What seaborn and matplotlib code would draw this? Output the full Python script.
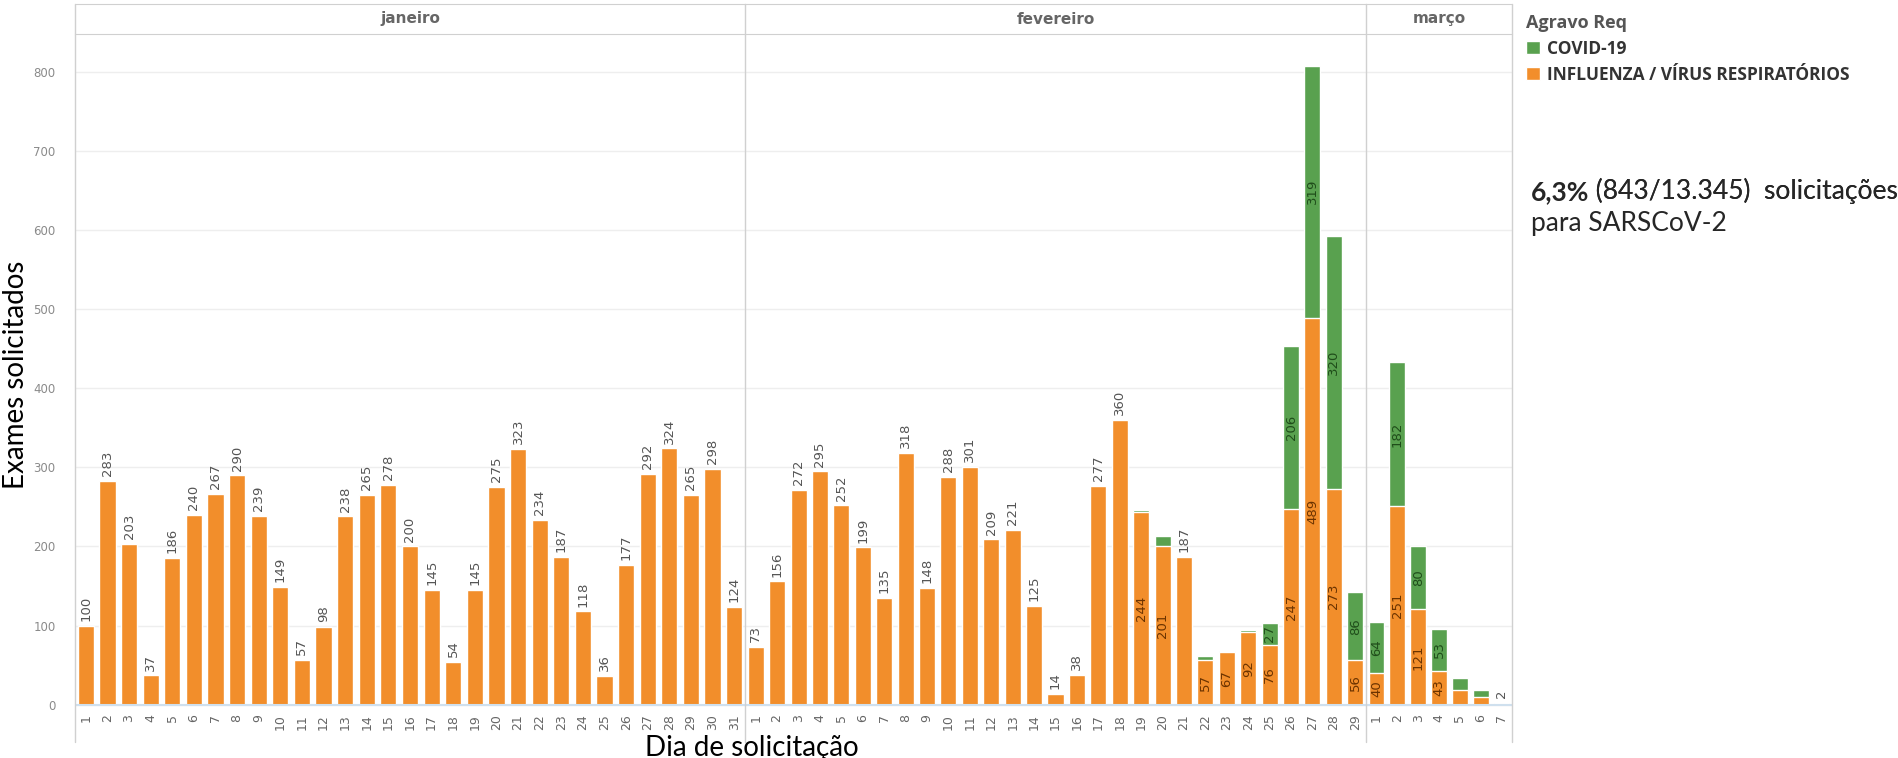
import matplotlib
matplotlib.use("Agg")
import matplotlib.pyplot as plt
from matplotlib.patches import Patch
from matplotlib.lines import Line2D
import seaborn as sns
import pandas as pd

# exames solicitados por dia, separados por agravo
meses = ["janeiro", "fevereiro", "março"]

jan_influenza = [100, 283, 203, 37, 186, 240, 267, 290, 239, 149, 57, 98, 238, 265, 278, 200,
                 145, 54, 145, 275, 323, 234, 187, 118, 36, 177, 292, 324, 265, 298, 124]
jan_covid = [0] * 31

fev_influenza = [73, 156, 272, 295, 252, 199, 135, 318, 148, 288, 301, 209, 221, 125, 14, 38,
                 277, 360, 244, 201, 187, 57, 67, 92, 76, 247, 489, 273, 56]
fev_covid = [0, 0, 0, 0, 0, 0, 0, 0, 0, 0, 0, 0, 0, 0, 0, 0,
             0, 0, 2, 12, 0, 4, 1, 2, 27, 206, 319, 320, 86]

mar_influenza = [40, 251, 121, 43, 18, 10, 2]
mar_covid = [64, 182, 80, 53, 16, 8, 0]

ORANGE = "#F28E2B"
GREEN = "#59A14F"
W, H = 1899, 758

sns.set_style("white")
plt.rcParams["font.family"] = ["DejaVu Sans"]

fig = plt.figure(figsize=(W / 100, H / 100), dpi=100)

# painel por mês, limites em pixels
bordas = [75, 745, 1366, 1512]
top_px, bottom_px = 34, 711

dados = [(jan_influenza, jan_covid), (fev_influenza, fev_covid), (mar_influenza, mar_covid)]

for i, (mes, (infl, cov)) in enumerate(zip(meses, dados)):
    x0, x1 = bordas[i], bordas[i + 1]
    ax = fig.add_axes([x0 / W, 1 - bottom_px / H, (x1 - x0) / W, (bottom_px - top_px) / H])
    df = pd.DataFrame({
        "dia": [str(d + 1) for d in range(len(infl))],
        "influenza": infl,
        "covid": cov,
    })
    df["total"] = df["influenza"] + df["covid"]

    sns.barplot(data=df, x="dia", y="total", color=GREEN, saturation=1, width=0.75, ax=ax)
    sns.barplot(data=df, x="dia", y="influenza", color=ORANGE, saturation=1, width=0.75, ax=ax)

    ax.set_ylim(-8, 848)
    ax.set_yticks(range(0, 801, 100))
    ax.grid(axis="y", color="#eeeeee", lw=1)
    ax.set_axisbelow(True)
    ax.axhline(0, color="#cfe0ee", lw=1.5, zorder=1)
    ax.set_xlabel("")
    ax.set_ylabel("")
    ax.tick_params(axis="x", length=0, labelrotation=90, labelsize=9, labelcolor="#666666", pad=2)
    ax.tick_params(axis="y", length=0, labelsize=8.5, labelcolor="#8a8a8a", pad=14)
    if i > 0:
        ax.set_yticklabels([])
    for s in ax.spines.values():
        s.set_visible(False)

    # rótulos de valor
    for j, row in df.iterrows():
        if row["covid"] == 0:
            ax.text(j, row["influenza"] + 6, str(row["influenza"]), rotation=90, ha="center",
                    va="bottom", fontsize=9.5, color="#555555")
        else:
            if row["influenza"] >= 20:
                ax.text(j, row["influenza"] / 2, str(row["influenza"]), rotation=90, ha="center",
                        va="center", fontsize=9.5, color="#6b3300")
            if row["covid"] >= 20:
                ax.text(j, row["influenza"] + row["covid"] / 2, str(row["covid"]), rotation=90,
                        ha="center", va="center", fontsize=9.5, color="#1f4d1a")

    # cabeçalho do mês
    hx = fig.add_axes([x0 / W, 1 - top_px / H, (x1 - x0) / W, (top_px - 4) / H])
    hx.set_xticks([])
    hx.set_yticks([])
    for s in ["left", "right"]:
        hx.spines[s].set_visible(False)
    for s in ["bottom", "top"]:
        hx.spines[s].set_color("#d0d0d0")
    hx.text(0.5, 0.5, mes, ha="center", va="center", fontsize=11, fontweight="bold",
            color="#666666", transform=hx.transAxes)

# divisórias verticais entre os meses, descendo até os rótulos dos dias
for bx in bordas:
    fig.add_artist(Line2D([bx / W, bx / W], [1 - 4 / H, 1 - 742 / H], color="#d0d0d0", lw=1))

fig.text(16 / W, 1 - 375 / H, "Exames solicitados", rotation=90, ha="center", va="center",
         fontsize=20, family=["Lato", "DejaVu Sans"], color="black")
fig.text(752 / W, -3 / H, "Dia de solicitação", ha="center", va="bottom",
         fontsize=20, family=["Lato", "DejaVu Sans"], color="black")

handles = [Patch(facecolor=GREEN, label="COVID-19"),
           Patch(facecolor=ORANGE, label="INFLUENZA / VÍRUS RESPIRATÓRIOS")]
leg = fig.legend(handles=handles, title="Agravo Req", loc="upper left",
                 bbox_to_anchor=(1526 / W, 1 - 14 / H), frameon=False,
                 handlelength=0.8, handleheight=0.8, handletextpad=0.4,
                 labelspacing=0.45, borderaxespad=0, borderpad=0,
                 prop={"weight": "bold", "size": 12.5, "family": ["Open Sans", "DejaVu Sans"]})
leg.get_title().set_fontsize(13)
leg.get_title().set_fontweight("bold")
leg.get_title().set_color("#555555")
leg.get_title().set_family(["Open Sans", "DejaVu Sans"])
for t in leg.get_texts():
    t.set_color("#333333")
leg._legend_box.align = "left"

t1 = fig.text(1531 / W, 1 - 200 / H, "6,3%", fontsize=19, fontweight="bold",
              family=["Lato", "DejaVu Sans"], va="baseline")
ann = plt.annotate(" (843/13.345)  solicitações", xy=(1, 0), xycoords=t1, va="bottom",
                   fontsize=19, family=["Lato", "DejaVu Sans"], annotation_clip=False)
fig.add_artist(ann)
fig.text(1531 / W, 1 - 231 / H, "para SARSCoV-2", fontsize=19,
         family=["Lato", "DejaVu Sans"], va="baseline")

fig.savefig("out.png", dpi=100)
